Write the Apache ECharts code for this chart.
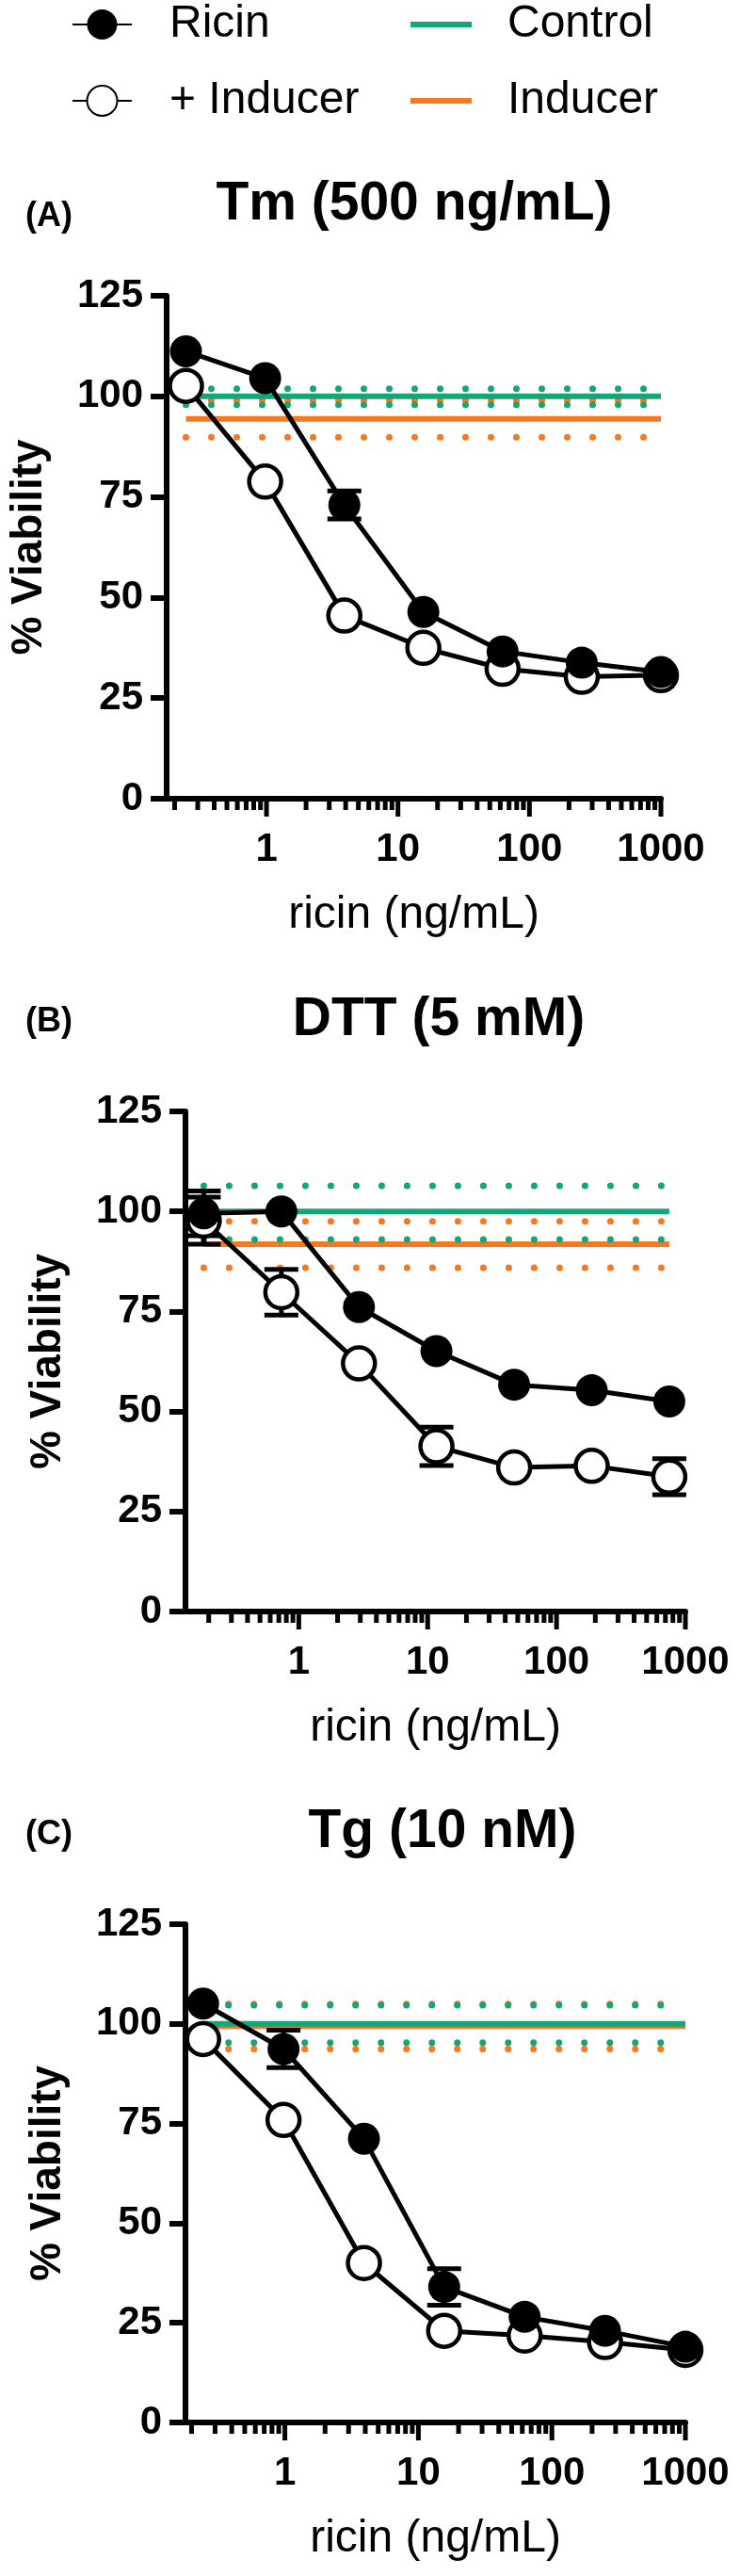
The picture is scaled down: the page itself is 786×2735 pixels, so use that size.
<!DOCTYPE html>
<html>
<head>
<meta charset="utf-8">
<script src="https://cdn.jsdelivr.net/npm/echarts@6/dist/echarts.min.js"></script>
<style>
html,body{margin:0;padding:0;background:#fff;}
#c{width:786px;height:2735px;}
</style>
</head>
<body>
<div id="c"></div>
<script>
// ---------------- DATA ----------------
const concAC = [0.244, 0.977, 3.91, 15.6, 62.5, 250, 1000];
const concB  = [0.183, 0.732, 2.93, 11.7, 46.9, 187.5, 750];

const ricinA      = [111.2, 104.5, 73.0, 46.4, 36.6, 33.8, 31.5];
const inducerA    = [102.6, 78.8, 45.5, 37.5, 32.3, 30.3, 30.7];
const ricinErrA   = [0, 0, 3.5, 0, 0, 0, 0];
const inducerErrA = [0, 0, 0, 0, 0, 0, 0];

const ricinB      = [99.5, 100.0, 76.1, 65.1, 56.7, 55.3, 52.5];
const inducerB    = [97.7, 79.8, 62.0, 41.3, 36.0, 36.4, 33.7];
const ricinErrB   = [5.6, 0, 0, 0, 0, 0, 0];
const inducerErrB = [5.9, 5.7, 0, 4.8, 0, 0, 4.5];

const ricinC      = [105.1, 93.7, 71.2, 34.0, 26.5, 23.0, 19.0];
const inducerC    = [96.2, 75.9, 40.0, 23.0, 21.8, 20.2, 18.2];
const ricinErrC   = [0, 4.7, 0, 4.6, 0, 0, 0];
const inducerErrC = [0, 0, 0, 0, 0, 0, 0];

// reference lines: [lower band, mean, upper band]
const controlA = [97.9, 100.0, 101.9];
const inducerRefA = [89.8, 94.4, 99.0];
const controlB = [93.0, 100.0, 106.4];
const inducerRefB = [85.9, 91.8, 97.5];
const controlC = [95.3, 100.0, 104.7];
const inducerRefC = [93.7, 99.4, 105.0];

const xTickLabels = [1, 10, 100, 1000];
const yTickLabels = [0, 25, 50, 75, 100, 125];
const minorMultipliers = [2, 3, 4, 5, 6, 7, 8, 9];
const panelTitles = ['Tm (500 ng/mL)', 'DTT (5 mM)', 'Tg (10 nM)'];
const panelLetters = ['(A)', '(B)', '(C)'];
const legendLeft = ['Ricin', '+ Inducer'];
const legendRight = ['Control', 'Inducer'];

// ---------------- STYLE / LAYOUT ----------------
const FONT = "Arial, 'Liberation Sans', Helvetica, sans-serif";
const GREEN = '#14a679';
const ORANGE = '#f47a21';

const layout = [
  {left: 172, top: 314, width: 530, height: 534, xmin: 0.174, titleX: 440, titleY: 217, letterY: 230},
  {left: 197, top: 1180, width: 531, height: 531, xmin: 0.132, titleX: 466, titleY: 1083, letterY: 1085},
  {left: 197, top: 2043, width: 531, height: 529, xmin: 0.180, titleX: 470, titleY: 1945, letterY: 1948}
];

const panels = [
  {conc: concAC, ricin: ricinA, ind: inducerA, eR: ricinErrA, eI: inducerErrA, ctrl: controlA, indRef: inducerRefA},
  {conc: concB,  ricin: ricinB, ind: inducerB, eR: ricinErrB, eI: inducerErrB, ctrl: controlB, indRef: inducerRefB},
  {conc: concAC, ricin: ricinC, ind: inducerC, eR: ricinErrC, eI: inducerErrC, ctrl: controlC, indRef: inducerRefC}
];

function errRender(params, api) {
  const x = api.value(0), lo = api.value(1), hi = api.value(2);
  const a = api.coord([x, hi]), b = api.coord([x, lo]);
  const hw = 18, st = {stroke: '#000', lineWidth: 5};
  return {type: 'group', children: [
    {type: 'line', shape: {x1: a[0], y1: a[1], x2: b[0], y2: b[1]}, style: st},
    {type: 'line', shape: {x1: a[0] - hw, y1: a[1], x2: a[0] + hw, y2: a[1]}, style: st},
    {type: 'line', shape: {x1: b[0] - hw, y1: b[1], x2: b[0] + hw, y2: b[1]}, style: st}
  ]};
}
function tickRender(params, api) {
  const p = api.coord([api.value(0), 0]);
  const len = api.value(1);
  return {type: 'line', shape: {x1: p[0], y1: p[1], x2: p[0], y2: p[1] + 3 + len},
          style: {stroke: '#000', lineWidth: 5}};
}
function ticksFor(min, max) {
  const out = [];
  for (let e = -1; e <= 3; e++) {
    const base = Math.pow(10, e);
    if (base >= min && base <= max) out.push([base, 16]);
    minorMultipliers.forEach(m => {
      const v = m * base;
      if (v >= min && v < 1000) out.push([v, 9]);
    });
  }
  return out;
}

const grid = [], xAxis = [], yAxis = [], series = [], graphic = [];

panels.forEach((p, i) => {
  const L = layout[i];
  grid.push({left: L.left, top: L.top, width: L.width, height: L.height, containLabel: false});
  xAxis.push({
    type: 'log', logBase: 10, gridIndex: i, min: L.xmin, max: 1000,
    axisLine: {show: true, onZero: false, lineStyle: {color: '#000', width: 6}},
    axisTick: {show: false}, minorTick: {show: false}, splitLine: {show: false},
    axisLabel: {
      show: true, showMinLabel: true, showMaxLabel: true, margin: 33,
      fontSize: 42, fontWeight: 'bold', color: '#000', fontFamily: FONT,
      formatter: v => {
        const r = Math.round(v);
        return (Math.abs(v - r) < 1e-6 && xTickLabels.indexOf(r) >= 0) ? String(r) : '';
      }
    },
    name: 'ricin (ng/mL)', nameLocation: 'middle', nameGap: 100,
    nameTextStyle: {fontSize: 48, color: '#000', fontFamily: FONT}
  });
  yAxis.push({
    type: 'value', gridIndex: i, min: yTickLabels[0], max: yTickLabels[yTickLabels.length - 1], interval: 25,
    axisLine: {show: true, onZero: false, lineStyle: {color: '#000', width: 6}},
    axisTick: {show: true, length: 17, lineStyle: {color: '#000', width: 6}},
    splitLine: {show: false},
    axisLabel: {margin: 25, fontSize: 42, fontWeight: 'bold', color: '#000', fontFamily: FONT},
    name: '% Viability', nameLocation: 'middle', nameRotate: 90, nameGap: 123,
    nameTextStyle: {fontSize: 46, fontWeight: 'bold', color: '#000', fontFamily: FONT}
  });

  const x0 = p.conc[0], x1 = p.conc[p.conc.length - 1];
  const hline = (name, color, v, dotted) => ({
    type: 'line', name: name, xAxisIndex: i, yAxisIndex: i, silent: true, clip: false,
    data: [[x0, v], [x1, v]], symbol: 'none', z: 2,
    itemStyle: {color: color},
    lineStyle: dotted ? {color: color, width: 7, type: [0, 27], cap: 'round'} : {color: color, width: 6}
  });
  // orange first (under), then green
  series.push(hline('Inducer band', ORANGE, p.indRef[0], true));
  series.push(hline('Inducer band', ORANGE, p.indRef[2], true));
  series.push(hline('Inducer', ORANGE, p.indRef[1], false));
  series.push(hline('Control band', GREEN, p.ctrl[0], true));
  series.push(hline('Control band', GREEN, p.ctrl[2], true));
  series.push(hline('Control', GREEN, p.ctrl[1], false));

  const errData = [];
  p.conc.forEach((c, k) => {
    if (p.eI[k] > 0) errData.push([c, p.ind[k] - p.eI[k], p.ind[k] + p.eI[k]]);
    if (p.eR[k] > 0) errData.push([c, p.ricin[k] - p.eR[k], p.ricin[k] + p.eR[k]]);
  });
  series.push({type: 'custom', name: 'err', xAxisIndex: i, yAxisIndex: i, silent: true, z: 3,
    renderItem: errRender, data: errData, encode: {x: 0, y: [1, 2]}});

  series.push({
    type: 'line', name: '+ Inducer', xAxisIndex: i, yAxisIndex: i, silent: true, clip: false, z: 4,
    data: p.conc.map((c, k) => [c, p.ind[k]]),
    symbol: 'circle', symbolSize: 34,
    itemStyle: {color: '#fff', borderColor: '#000', borderWidth: 4.5},
    lineStyle: {color: '#000', width: 5}
  });
  series.push({
    type: 'line', name: 'Ricin', xAxisIndex: i, yAxisIndex: i, silent: true, clip: false, z: 5,
    data: p.conc.map((c, k) => [c, p.ricin[k]]),
    symbol: 'circle', symbolSize: 34,
    itemStyle: {color: '#000', borderColor: '#000', borderWidth: 0},
    lineStyle: {color: '#000', width: 5}
  });
  series.push({type: 'custom', name: 'ticks', xAxisIndex: i, yAxisIndex: i, silent: true, z: 6,
    renderItem: tickRender, data: ticksFor(L.xmin, 1000), encode: {x: 0, y: 1}});

  graphic.push({type: 'text', x: L.titleX, y: L.titleY, silent: true,
    style: {text: panelTitles[i], font: 'bold 57px ' + FONT, fill: '#000', textAlign: 'center', textVerticalAlign: 'middle'}});
  graphic.push({type: 'text', x: 52, y: L.letterY, silent: true,
    style: {text: panelLetters[i], font: 'bold 36px ' + FONT, fill: '#000', textAlign: 'center', textVerticalAlign: 'middle'}});
});

const option = {
  animation: false,
  textStyle: {fontFamily: FONT},
  legend: [
    {data: legendLeft, left: 76, top: 2, orient: 'vertical', padding: 0, itemGap: 33,
     itemWidth: 63, itemHeight: 40, selectedMode: false,
     textStyle: {fontSize: 48, color: '#000', fontFamily: FONT, padding: [0, 0, 0, 35]}},
    {data: legendRight.map(n => ({name: n, icon: 'rect'})), left: 436, top: 2, orient: 'vertical', padding: 0, itemGap: 33,
     itemWidth: 65, itemHeight: 6, selectedMode: false,
     textStyle: {fontSize: 48, color: '#000', fontFamily: FONT, padding: [0, 0, 0, 33]}}
  ],
  grid: grid, xAxis: xAxis, yAxis: yAxis, series: series, graphic: graphic
};

const chart = echarts.init(document.getElementById('c'), null, {renderer: 'canvas', width: 786, height: 2735});
chart.setOption(option);
</script>
</body>
</html>
